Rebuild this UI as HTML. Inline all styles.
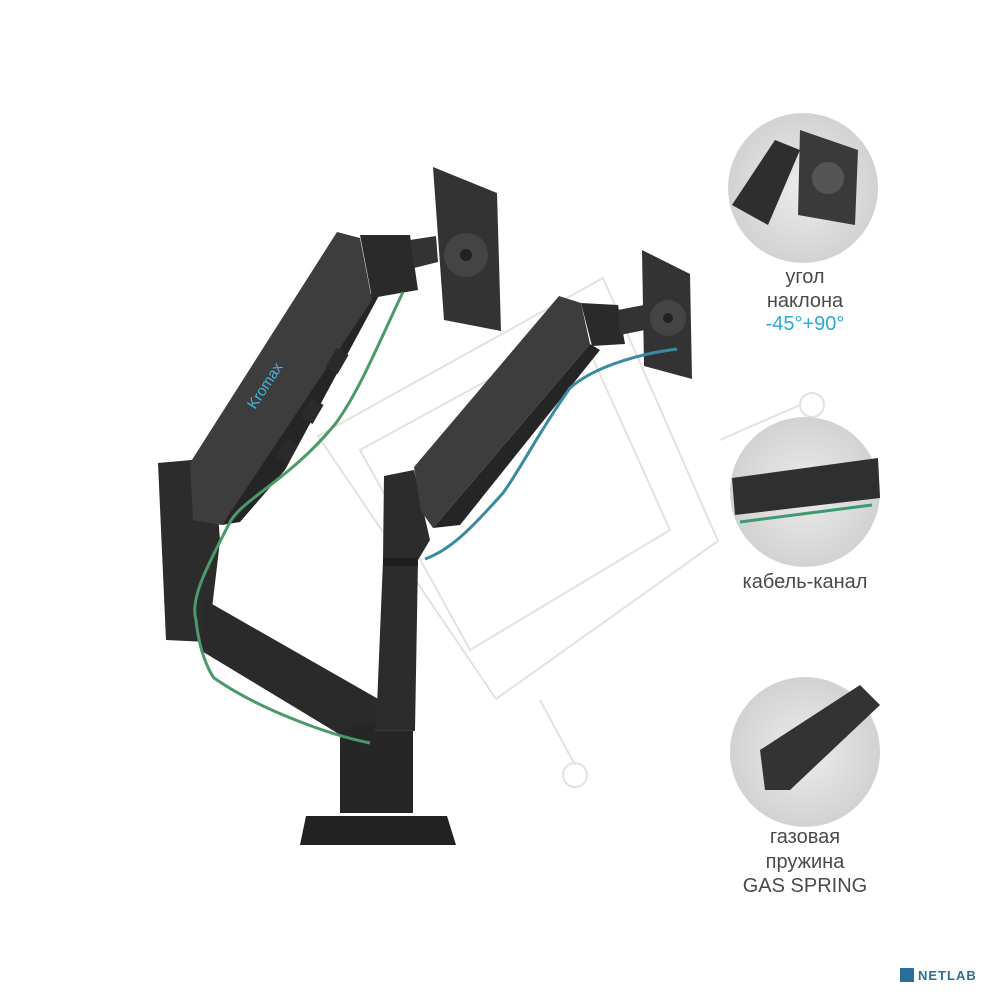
<!DOCTYPE html>
<html><head><meta charset="utf-8"><style>
html,body{margin:0;padding:0;background:#fff;}
body{width:1000px;height:1000px;position:relative;overflow:hidden;font-family:"Liberation Sans",sans-serif;}
.t{position:absolute;width:200px;left:705px;text-align:center;font-size:20px;color:#4a4a4a;line-height:24px;}
</style></head><body>
<svg width="1000" height="1000" style="position:absolute;left:0;top:0">
<defs>
<radialGradient id="g" cx="50%" cy="50%" r="50%"><stop offset="0" stop-color="#ececec"/><stop offset="1" stop-color="#d2d2d2"/></radialGradient>
</defs>
<!-- watermark -->
<g fill="none" stroke="#e2e2e2" stroke-width="2">
<polygon points="318,436 603,278 718,541 496,699" stroke-linejoin="round"/>
<polygon points="360,450 580,330 670,530 470,650" stroke-linejoin="round"/>
<circle cx="575" cy="775" r="12"/>
<circle cx="812" cy="405" r="12"/>
<line x1="540" y1="700" x2="575" y2="765"/>
<line x1="720" y1="440" x2="800" y2="405"/>
</g>
<!-- circles -->
<circle cx="803" cy="188" r="75" fill="url(#g)"/>
<circle cx="805" cy="492" r="75" fill="url(#g)"/>
<circle cx="805" cy="752" r="75" fill="url(#g)"/>
<polygon points="732,205 775,140 800,150 768,225" fill="#2e2e2e"/>
<polygon points="800,130 858,150 855,225 798,215" fill="#3a3a3a"/>
<circle cx="828" cy="178" r="16" fill="#555"/>
<polygon points="732,478 878,458 880,498 735,515" fill="#2f2f2f"/>
<line x1="740" y1="522" x2="872" y2="505" stroke="#3a9a70" stroke-width="3"/>
<polygon points="760,750 860,685 880,705 790,790 765,790" fill="#333"/>
<!-- left column -->
<polygon points="158,463 214,458 220,541 208,642 166,640" fill="#2c2c2c"/>
<!-- left lower arm -->
<polygon points="205,600 380,700 385,735 362,748 200,650" fill="#2a2a2a"/>
<!-- base post and plate -->
<polygon points="340,730 380,722 413,700 413,813 340,813" fill="#262626"/>
<line x1="375" y1="730" x2="415" y2="730" stroke="#3a3a3a" stroke-width="2"/>
<polygon points="306,816 447,816 456,845 300,845" fill="#222"/>
<!-- right column -->
<polygon points="384,476 414,470 430,540 418,560 415,730 376,730 383,560" fill="#2c2c2c"/>
<rect x="383" y="558" width="35" height="8" fill="#1e1e1e"/>
<!-- left upper arm underside -->
<polygon points="362,297 382,290 285,470 240,522 222,525" fill="#252525"/>
<!-- left upper arm -->
<polygon points="190,463 337,232 360,238 372,300 222,525 193,520" fill="#3d3d3d"/>
<polygon points="360,235 410,235 418,290 372,298" fill="#2a2a2a"/>
<polygon points="410,240 436,236 438,262 414,268" fill="#333"/>
<g fill="#2a2a2a"><rect x="330" y="350" width="14" height="22" transform="rotate(30 337 361)"/><rect x="305" y="400" width="14" height="22" transform="rotate(30 312 411)"/><rect x="280" y="440" width="14" height="22" transform="rotate(30 287 451)"/></g>
<!-- left plate -->
<polygon points="433,167 497,193 501,331 444,320" fill="#333"/>
<circle cx="466" cy="255" r="22" fill="#444"/>
<circle cx="466" cy="255" r="6" fill="#222"/>
<!-- right upper arm underside -->
<polygon points="590,344 600,350 460,525 433,528" fill="#252525"/>
<!-- right upper arm -->
<polygon points="414,467 559,296 581,303 590,344 433,528 421,511" fill="#3d3d3d"/>
<polygon points="581,303 618,305 625,344 592,346" fill="#2a2a2a"/>
<polygon points="618,310 644,305 645,330 620,335" fill="#333"/>
<!-- right plate -->
<polygon points="642,250 690,274 692,379 644,366" fill="#333"/>
<circle cx="668" cy="318" r="18" fill="#444"/>
<circle cx="668" cy="318" r="5" fill="#222"/>
<!-- cables -->
<path d="M403,292 C380,340 360,390 336,423 C290,480 240,500 229,524 C205,570 190,600 196,620 C200,660 214,678 214,678 C260,710 330,735 370,743" stroke="#4a9a6a" stroke-width="3" fill="none"/>
<path d="M677,349 C630,355 590,370 570,388 C540,430 520,470 503,493 C470,530 450,550 425,559" stroke="#3a8aa0" stroke-width="3" fill="none"/>
<text x="255" y="410" transform="rotate(-57 255 410)" font-family="Liberation Sans" font-size="15" fill="#49b0d6">Kromax</text>
</svg>
<div class="t" style="top:265px">угол</div>
<div class="t" style="top:289px">наклона</div>
<div class="t" style="top:312px;color:#2aa8d8">-45°+90°</div>
<div class="t" style="top:570px">кабель-канал</div>
<div class="t" style="top:825px">газовая</div>
<div class="t" style="top:850px">пружина</div>
<div class="t" style="top:874px">GAS SPRING</div>
<div style="position:absolute;left:918px;top:968px;font-size:13px;color:#2a6f9a;font-weight:bold;letter-spacing:1px">NETLAB</div>
<div style="position:absolute;left:900px;top:968px;width:14px;height:14px;background:#2a6f9a"></div>
</body></html>
